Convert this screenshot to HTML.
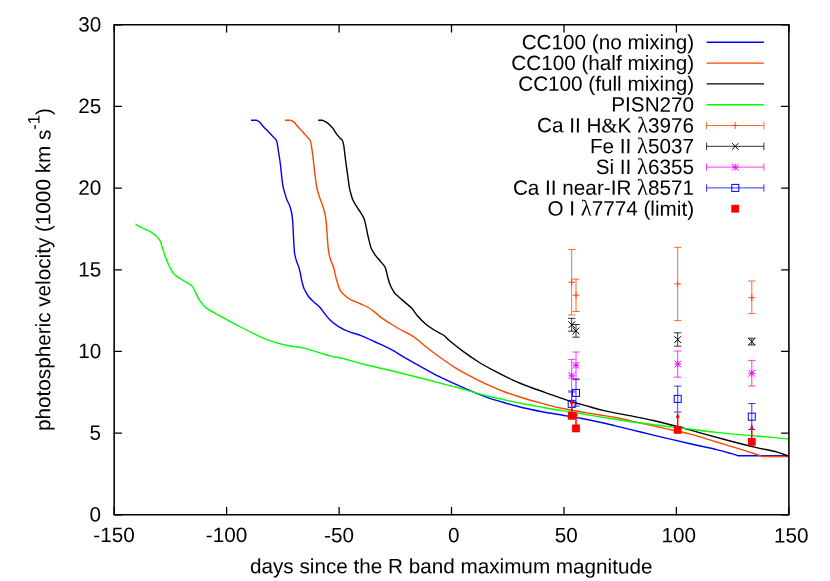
<!DOCTYPE html>
<html><head><meta charset="utf-8"><title>photospheric velocity</title>
<style>
html,body{margin:0;padding:0;background:#fff;}
svg{display:block;will-change:transform;}
text{font-family:"Liberation Sans",sans-serif;font-size:20.7px;fill:#000;text-rendering:geometricPrecision;}
</style></head><body>
<svg width="830" height="581" viewBox="0 0 830 581">
<rect width="830" height="581" fill="#fff"/>
<g>
<path d="M251.00,120.30 L256.70,120.30 C257.18,120.57 258.68,121.07 259.60,121.90 C260.52,122.73 261.00,123.93 262.20,125.30 C263.40,126.67 265.25,128.48 266.80,130.10 C268.35,131.72 269.95,133.38 271.50,135.00 C273.05,136.62 275.13,138.30 276.10,139.80 C277.07,141.30 276.93,142.22 277.30,144.00 C277.67,145.78 277.83,147.50 278.30,150.50 C278.77,153.50 279.58,158.15 280.10,162.00 C280.62,165.85 280.95,169.73 281.40,173.60 C281.85,177.47 282.25,181.98 282.80,185.20 C283.35,188.42 284.00,190.43 284.70,192.90 C285.40,195.37 286.23,198.02 287.00,200.00 C287.77,201.98 288.53,202.72 289.30,204.80 C290.07,206.88 291.03,209.77 291.60,212.50 C292.17,215.23 292.42,217.82 292.70,221.20 C292.98,224.58 293.10,228.95 293.30,232.80 C293.50,236.65 293.67,240.77 293.90,244.30 C294.13,247.83 294.28,251.27 294.70,254.00 C295.12,256.73 295.70,258.45 296.40,260.70 C297.10,262.95 298.22,265.25 298.90,267.50 C299.58,269.75 300.02,271.95 300.50,274.20 C300.98,276.45 301.27,278.75 301.80,281.00 C302.33,283.25 303.20,286.20 303.70,287.70 C304.20,289.20 303.97,288.50 304.80,290.00 C305.63,291.50 307.08,294.62 308.70,296.70 C310.32,298.78 312.58,300.67 314.50,302.50 C316.42,304.33 318.43,305.77 320.20,307.70 C321.97,309.63 323.33,311.92 325.10,314.10 C326.87,316.28 328.55,318.72 330.80,320.80 C333.05,322.88 335.70,324.83 338.60,326.60 C341.50,328.37 344.35,329.85 348.20,331.40 C352.05,332.95 357.20,334.13 361.70,335.90 C366.20,337.67 370.38,339.78 375.20,342.00 C380.02,344.22 385.47,346.47 390.60,349.20 C395.73,351.93 400.53,355.25 406.00,358.40 C411.47,361.55 417.93,365.10 423.40,368.10 C428.87,371.10 433.47,373.72 438.80,376.40 C444.13,379.08 450.07,381.78 455.40,384.20 C460.73,386.62 465.65,388.75 470.80,390.90 C475.95,393.05 480.83,395.17 486.30,397.10 C491.77,399.03 497.50,400.73 503.60,402.50 C509.70,404.27 516.47,406.17 522.90,407.70 C529.33,409.23 535.78,410.48 542.20,411.70 C548.62,412.92 554.98,413.90 561.40,415.00 C567.82,416.10 574.27,417.08 580.70,418.30 C587.13,419.52 594.23,421.03 600.00,422.30 C605.77,423.57 608.53,424.28 615.30,425.90 C622.07,427.52 632.17,429.97 640.60,432.00 C649.03,434.03 657.47,436.10 665.90,438.10 C674.33,440.10 682.77,442.08 691.20,444.00 C699.63,445.92 709.75,447.98 716.50,449.60 C723.25,451.22 728.12,452.68 731.70,453.70 C735.28,454.72 736.95,455.37 738.00,455.70 L789.00,455.70" fill="none" stroke="#0000ff" stroke-width="1.4" stroke-linejoin="round" stroke-linecap="butt"/>
<path d="M284.90,120.30 L290.70,120.30 C291.22,120.57 292.80,121.07 293.80,121.90 C294.80,122.73 295.48,123.93 296.70,125.30 C297.92,126.67 299.63,128.48 301.10,130.10 C302.57,131.72 304.03,133.38 305.50,135.00 C306.97,136.62 308.93,138.12 309.90,139.80 C310.87,141.48 310.80,142.35 311.30,145.10 C311.80,147.85 312.42,152.52 312.90,156.30 C313.38,160.08 313.75,163.95 314.20,167.80 C314.65,171.65 315.12,175.87 315.60,179.40 C316.08,182.93 316.47,186.12 317.10,189.00 C317.73,191.88 318.83,194.87 319.40,196.70 C319.97,198.53 319.90,198.33 320.50,200.00 C321.10,201.67 322.20,204.13 323.00,206.70 C323.80,209.27 324.72,212.33 325.30,215.40 C325.88,218.47 326.17,221.57 326.50,225.10 C326.83,228.63 327.05,233.07 327.30,236.60 C327.55,240.13 327.68,243.25 328.00,246.30 C328.32,249.35 328.65,252.33 329.20,254.90 C329.75,257.47 330.57,259.60 331.30,261.70 C332.03,263.80 332.95,265.42 333.60,267.50 C334.25,269.58 334.62,271.80 335.20,274.20 C335.78,276.60 336.33,279.33 337.10,281.90 C337.87,284.47 338.75,287.55 339.80,289.60 C340.85,291.65 341.68,292.58 343.40,294.20 C345.12,295.82 347.37,297.75 350.10,299.30 C352.83,300.85 356.90,302.22 359.80,303.50 C362.70,304.78 365.10,305.65 367.50,307.00 C369.90,308.35 371.95,309.87 374.20,311.60 C376.45,313.33 378.27,315.38 381.00,317.40 C383.73,319.42 387.40,321.68 390.60,323.70 C393.80,325.72 396.98,327.73 400.20,329.50 C403.42,331.27 407.00,332.60 409.90,334.30 C412.80,336.00 414.72,337.45 417.60,339.70 C420.48,341.95 423.67,345.00 427.20,347.80 C430.73,350.60 434.10,353.17 438.80,356.50 C443.50,359.83 450.07,364.48 455.40,367.80 C460.73,371.12 465.65,373.67 470.80,376.40 C475.95,379.13 480.83,381.68 486.30,384.20 C491.77,386.72 497.50,389.20 503.60,391.50 C509.70,393.80 516.47,396.02 522.90,398.00 C529.33,399.98 535.78,401.68 542.20,403.40 C548.62,405.12 554.98,406.92 561.40,408.30 C567.82,409.68 574.27,410.58 580.70,411.70 C587.13,412.82 594.23,414.03 600.00,415.00 C605.77,415.97 608.53,416.17 615.30,417.50 C622.07,418.83 632.17,421.15 640.60,423.00 C649.03,424.85 657.47,426.70 665.90,428.60 C674.33,430.50 682.77,432.17 691.20,434.40 C699.63,436.63 708.07,439.47 716.50,442.00 C724.93,444.53 735.05,447.50 741.80,449.60 C748.55,451.70 753.62,453.45 757.00,454.60 C760.38,455.75 761.25,456.18 762.10,456.50 L789.00,456.50" fill="none" stroke="#ff4500" stroke-width="1.4" stroke-linejoin="round" stroke-linecap="butt"/>
<path d="M318.30,120.30 L322.50,120.30 C323.05,120.57 324.58,121.13 325.80,121.90 C327.02,122.67 328.58,123.78 329.80,124.90 C331.02,126.02 331.98,127.10 333.10,128.60 C334.22,130.10 335.38,132.37 336.50,133.90 C337.62,135.43 338.82,136.70 339.80,137.80 C340.78,138.90 341.75,139.28 342.40,140.50 C343.05,141.72 343.25,142.47 343.70,145.10 C344.15,147.73 344.62,152.52 345.10,156.30 C345.58,160.08 346.12,164.27 346.60,167.80 C347.08,171.33 347.55,174.28 348.00,177.50 C348.45,180.72 348.77,184.22 349.30,187.10 C349.83,189.98 350.60,192.65 351.20,194.80 C351.80,196.95 351.98,198.02 352.90,200.00 C353.82,201.98 355.42,204.62 356.70,206.70 C357.98,208.78 359.40,210.57 360.60,212.50 C361.80,214.43 363.03,216.20 363.90,218.30 C364.77,220.40 365.23,222.68 365.80,225.10 C366.37,227.52 366.72,230.08 367.30,232.80 C367.88,235.52 368.65,238.83 369.30,241.40 C369.95,243.97 370.23,245.95 371.20,248.20 C372.17,250.45 373.65,252.82 375.10,254.90 C376.55,256.98 378.30,258.77 379.90,260.70 C381.50,262.63 383.58,264.57 384.70,266.50 C385.82,268.43 386.02,270.22 386.60,272.30 C387.18,274.38 387.55,276.75 388.20,279.00 C388.85,281.25 389.48,283.55 390.50,285.80 C391.52,288.05 393.32,291.00 394.30,292.50 C395.28,294.00 394.77,293.28 396.40,294.80 C398.03,296.32 401.53,299.35 404.10,301.60 C406.67,303.85 409.55,305.90 411.80,308.30 C414.05,310.70 415.35,313.43 417.60,316.00 C419.85,318.57 422.42,321.28 425.30,323.70 C428.18,326.12 431.85,328.57 434.90,330.50 C437.95,332.43 441.15,333.58 443.60,335.30 C446.05,337.02 446.35,338.12 449.60,340.80 C452.85,343.48 458.27,347.87 463.10,351.40 C467.93,354.93 473.45,358.78 478.60,362.00 C483.75,365.22 488.22,367.65 494.00,370.70 C499.78,373.75 506.88,377.42 513.30,380.30 C519.72,383.18 526.08,385.58 532.50,388.00 C538.92,390.42 545.37,392.55 551.80,394.80 C558.23,397.05 565.32,399.65 571.10,401.50 C576.88,403.35 581.23,404.42 586.50,405.90 C591.77,407.38 595.78,408.82 602.70,410.40 C609.62,411.98 619.57,413.72 628.00,415.40 C636.43,417.08 644.87,418.60 653.30,420.50 C661.73,422.40 670.17,424.57 678.60,426.80 C687.03,429.03 695.47,431.58 703.90,433.90 C712.33,436.22 720.77,438.50 729.20,440.70 C737.63,442.90 746.50,445.20 754.50,447.10 C762.50,449.00 771.45,450.57 777.20,452.10 C782.95,453.63 787.03,455.60 789.00,456.30" fill="none" stroke="#000" stroke-width="1.4" stroke-linejoin="round" stroke-linecap="butt"/>
<path d="M135.40,223.70 C136.07,224.18 137.12,225.40 139.40,226.60 C141.68,227.80 146.48,229.50 149.10,230.90 C151.72,232.30 153.30,233.43 155.10,235.00 C156.90,236.57 158.70,238.22 159.90,240.30 C161.10,242.38 161.30,244.50 162.30,247.50 C163.30,250.50 164.48,254.68 165.90,258.30 C167.32,261.92 169.38,266.50 170.80,269.20 C172.22,271.90 172.60,272.78 174.40,274.50 C176.20,276.22 178.80,277.70 181.60,279.50 C184.40,281.30 189.00,283.40 191.20,285.30 C193.40,287.20 193.38,288.37 194.80,290.90 C196.22,293.43 197.68,297.58 199.70,300.50 C201.72,303.42 203.30,305.72 206.90,308.40 C210.50,311.08 215.68,313.50 221.30,316.60 C226.92,319.70 234.17,323.67 240.60,327.00 C247.03,330.33 254.28,334.08 259.90,336.60 C265.52,339.12 269.48,340.57 274.30,342.10 C279.12,343.63 283.98,344.83 288.80,345.80 C293.62,346.77 298.12,346.75 303.20,347.90 C308.28,349.05 314.70,351.33 319.30,352.70 C323.90,354.07 326.63,355.08 330.80,356.10 C334.97,357.12 338.83,357.45 344.30,358.80 C349.77,360.15 355.57,362.17 363.60,364.20 C371.63,366.23 383.18,368.75 392.50,371.00 C401.82,373.25 411.13,375.55 419.50,377.70 C427.87,379.85 436.72,382.35 442.70,383.90 C448.68,385.45 450.72,385.77 455.40,387.00 C460.08,388.23 465.65,389.85 470.80,391.30 C475.95,392.75 480.83,394.32 486.30,395.70 C491.77,397.08 497.50,398.25 503.60,399.60 C509.70,400.95 516.47,402.52 522.90,403.80 C529.33,405.08 535.78,406.17 542.20,407.30 C548.62,408.43 554.98,409.57 561.40,410.60 C567.82,411.63 574.27,412.45 580.70,413.50 C587.13,414.55 594.23,415.95 600.00,416.90 C605.77,417.85 608.53,418.18 615.30,419.20 C622.07,420.22 632.17,421.82 640.60,423.00 C649.03,424.18 657.47,425.25 665.90,426.30 C674.33,427.35 682.77,428.28 691.20,429.30 C699.63,430.32 708.07,431.47 716.50,432.40 C724.93,433.33 733.37,434.15 741.80,434.90 C750.23,435.65 759.23,436.22 767.10,436.90 C774.97,437.58 785.35,438.65 789.00,439.00" fill="none" stroke="#00ff00" stroke-width="1.4" stroke-linejoin="round" stroke-linecap="butt"/>
<path d="M571.7,249.5V315.0M568.0,249.5H575.4M568.0,315.0H575.4" stroke="#ff4500" stroke-width="0.8" fill="none"/><path d="M568.4,282.2H575.1M571.7,278.8V285.6" stroke="#ff4500" stroke-width="1.0" fill="none"/>
<path d="M576.0,279.1V311.5M572.3,279.1H579.7M572.3,311.5H579.7" stroke="#ff4500" stroke-width="0.8" fill="none"/><path d="M572.6,295.2H579.4M576.0,291.8V298.6" stroke="#ff4500" stroke-width="1.0" fill="none"/>
<path d="M677.7,247.3V320.6M674.0,247.3H681.4M674.0,320.6H681.4" stroke="#ff4500" stroke-width="0.8" fill="none"/><path d="M674.4,283.9H681.1M677.7,280.5V287.2" stroke="#ff4500" stroke-width="1.0" fill="none"/>
<path d="M751.8,281.0V313.6M748.1,281.0H755.5M748.1,313.6H755.5" stroke="#ff4500" stroke-width="0.8" fill="none"/><path d="M748.4,297.7H755.1M751.8,294.3V301.1" stroke="#ff4500" stroke-width="1.0" fill="none"/>
<path d="M571.7,318.3V331.2M568.0,318.3H575.4M568.0,331.2H575.4" stroke="#000" stroke-width="0.8" fill="none"/><path d="M568.4,321.4L575.1,328.2M568.4,328.2L575.1,321.4" stroke="#000" stroke-width="1.0" fill="none"/>
<path d="M576.0,324.5V337.2M572.3,324.5H579.7M572.3,337.2H579.7" stroke="#000" stroke-width="0.8" fill="none"/><path d="M572.6,327.5L579.4,334.2M572.6,334.2L579.4,327.5" stroke="#000" stroke-width="1.0" fill="none"/>
<path d="M677.7,332.8V346.2M674.0,332.8H681.4M674.0,346.2H681.4" stroke="#000" stroke-width="0.8" fill="none"/><path d="M674.4,336.2L681.1,343.0M674.4,343.0L681.1,336.2" stroke="#000" stroke-width="1.0" fill="none"/>
<path d="M751.8,338.2V345.0M748.1,338.2H755.5M748.1,345.0H755.5" stroke="#000" stroke-width="0.8" fill="none"/><path d="M748.4,338.2L755.1,345.0M748.4,345.0L755.1,338.2" stroke="#000" stroke-width="1.0" fill="none"/>
<path d="M571.7,359.4V392.3M568.0,359.4H575.4M568.0,392.3H575.4" stroke="#ff00ff" stroke-width="0.8" fill="none"/><path d="M568.4,375.8H575.1M571.7,372.4V379.2" stroke="#ff00ff" stroke-width="1.0" fill="none"/><path d="M568.4,372.4L575.1,379.2M568.4,379.2L575.1,372.4" stroke="#ff00ff" stroke-width="1.0" fill="none"/>
<path d="M576.0,352.0V378.7M572.3,352.0H579.7M572.3,378.7H579.7" stroke="#ff00ff" stroke-width="0.8" fill="none"/><path d="M572.6,365.3H579.4M576.0,361.9V368.7" stroke="#ff00ff" stroke-width="1.0" fill="none"/><path d="M572.6,361.9L579.4,368.7M572.6,368.7L579.4,361.9" stroke="#ff00ff" stroke-width="1.0" fill="none"/>
<path d="M677.7,351.0V377.2M674.0,351.0H681.4M674.0,377.2H681.4" stroke="#ff00ff" stroke-width="0.8" fill="none"/><path d="M674.4,364.0H681.1M677.7,360.6V367.4" stroke="#ff00ff" stroke-width="1.0" fill="none"/><path d="M674.4,360.6L681.1,367.4M674.4,367.4L681.1,360.6" stroke="#ff00ff" stroke-width="1.0" fill="none"/>
<path d="M751.8,360.4V386.0M748.1,360.4H755.5M748.1,386.0H755.5" stroke="#ff00ff" stroke-width="0.8" fill="none"/><path d="M748.4,373.3H755.1M751.8,369.9V376.7" stroke="#ff00ff" stroke-width="1.0" fill="none"/><path d="M748.4,369.9L755.1,376.7M748.4,376.7L755.1,369.9" stroke="#ff00ff" stroke-width="1.0" fill="none"/>
<path d="M571.7,391.0V415.7M568.0,391.0H575.4M568.0,415.7H575.4" stroke="#0000ff" stroke-width="0.8" fill="none"/><rect x="568.2" y="400.4" width="7.0" height="7.0" stroke="#0000ff" stroke-width="1.0" fill="none"/>
<path d="M576.0,379.6V406.2M572.3,379.6H579.7M572.3,406.2H579.7" stroke="#0000ff" stroke-width="0.8" fill="none"/><rect x="572.5" y="389.4" width="7.0" height="7.0" stroke="#0000ff" stroke-width="1.0" fill="none"/>
<path d="M677.7,386.1V412.1M674.0,386.1H681.4M674.0,412.1H681.4" stroke="#0000ff" stroke-width="0.8" fill="none"/><rect x="674.2" y="395.4" width="7.0" height="7.0" stroke="#0000ff" stroke-width="1.0" fill="none"/>
<path d="M751.8,403.6V429.5M748.1,403.6H755.5M748.1,429.5H755.5" stroke="#0000ff" stroke-width="0.8" fill="none"/><rect x="748.3" y="413.2" width="7.0" height="7.0" stroke="#0000ff" stroke-width="1.0" fill="none"/>
<rect x="567.8" y="411.9" width="7.8" height="7.8" fill="#ff0000"/><path d="M571.7,415.8V402.0" stroke="#ff0000" stroke-width="1.5" fill="none"/><path d="M571.7,398.0L573.7,404.3L571.7,403.2L569.7,404.3Z" fill="#ff0000"/>
<rect x="572.1" y="424.5" width="7.8" height="7.8" fill="#ff0000"/><path d="M576.0,428.4V414.5" stroke="#ff0000" stroke-width="1.5" fill="none"/><path d="M576.0,410.5L578.0,416.8L576.0,415.7L574.0,416.8Z" fill="#ff0000"/>
<rect x="673.8" y="426.0" width="7.8" height="7.8" fill="#ff0000"/><path d="M677.7,429.9V416.0" stroke="#ff0000" stroke-width="1.5" fill="none"/><path d="M677.7,412.0L679.7,418.3L677.7,417.2L675.7,418.3Z" fill="#ff0000"/>
<rect x="747.9" y="438.0" width="7.8" height="7.8" fill="#ff0000"/><path d="M751.8,441.9V427.6" stroke="#ff0000" stroke-width="1.5" fill="none"/><path d="M751.8,423.6L753.8,429.9L751.8,428.8L749.8,429.9Z" fill="#ff0000"/>
</g>
<g>
<rect x="114.15" y="24.76" width="674.75" height="489.99" fill="none" stroke="#000" stroke-width="1.55" stroke-linejoin="round"/>
<path d="M114.2,514.75V507.45M114.2,24.76V32.06M226.6,514.75V507.45M226.6,24.76V32.06M339.1,514.75V507.45M339.1,24.76V32.06M451.5,514.75V507.45M451.5,24.76V32.06M564.0,514.75V507.45M564.0,24.76V32.06M676.4,514.75V507.45M676.4,24.76V32.06M788.9,514.75V507.45M788.9,24.76V32.06M114.15,514.8H121.45M788.9,514.8H781.6M114.15,433.1H121.45M788.9,433.1H781.6M114.15,351.4H121.45M788.9,351.4H781.6M114.15,269.8H121.45M788.9,269.8H781.6M114.15,188.1H121.45M788.9,188.1H781.6M114.15,106.4H121.45M788.9,106.4H781.6M114.15,24.8H121.45M788.9,24.8H781.6" stroke="#000" stroke-width="1.3" stroke-linecap="round" fill="none"/>
</g>
<g>
<path d="M706.6,42.3H763.9" stroke="#0000ff" stroke-width="1.4"/>
<path d="M706.6,63.1H763.9" stroke="#ff4500" stroke-width="1.4"/>
<path d="M706.6,83.9H763.9" stroke="#000" stroke-width="1.4"/>
<path d="M706.6,104.7H763.9" stroke="#00ff00" stroke-width="1.4"/>
<path d="M706.6,125.5H763.9M706.6,121.8V129.2M763.9,121.8V129.2" stroke="#ff4500" stroke-width="0.8" fill="none"/><path d="M731.9,125.5H738.6M735.2,122.2V128.8" stroke="#ff4500" stroke-width="1.0" fill="none"/>
<path d="M706.6,146.3H763.9M706.6,142.6V150.0M763.9,142.6V150.0" stroke="#000" stroke-width="0.8" fill="none"/><path d="M731.9,143.0L738.6,149.7M731.9,149.7L738.6,143.0" stroke="#000" stroke-width="1.0" fill="none"/>
<path d="M706.6,167.1H763.9M706.6,163.4V170.8M763.9,163.4V170.8" stroke="#ff00ff" stroke-width="0.8" fill="none"/><path d="M731.9,167.1H738.6M735.2,163.8V170.5" stroke="#ff00ff" stroke-width="1.0" fill="none"/><path d="M731.9,163.8L738.6,170.5M731.9,170.5L738.6,163.8" stroke="#ff00ff" stroke-width="1.0" fill="none"/>
<path d="M706.6,187.9H763.9M706.6,184.2V191.6M763.9,184.2V191.6" stroke="#0000ff" stroke-width="0.8" fill="none"/><rect x="731.8" y="184.4" width="7.0" height="7.0" stroke="#0000ff" stroke-width="1.0" fill="none"/>
<rect x="731.3" y="204.8" width="7.8" height="7.8" fill="#ff0000"/>
</g>
<g transform="rotate(0.03 415 290)">
<text x="114.2" y="542.2" text-anchor="middle">-150</text>
<text x="226.6" y="542.2" text-anchor="middle">-100</text>
<text x="339.1" y="542.2" text-anchor="middle">-50</text>
<text x="454.0" y="542.2" text-anchor="middle">0</text>
<text x="566.5" y="542.2" text-anchor="middle">50</text>
<text x="678.9" y="542.2" text-anchor="middle">100</text>
<text x="791.4" y="542.2" text-anchor="middle">150</text>
<text x="101.2" y="521.6" text-anchor="end">0</text>
<text x="101.2" y="440.0" text-anchor="end">5</text>
<text x="101.2" y="358.3" text-anchor="end">10</text>
<text x="101.2" y="276.7" text-anchor="end">15</text>
<text x="101.2" y="195.0" text-anchor="end">20</text>
<text x="101.2" y="113.3" text-anchor="end">25</text>
<text x="101.2" y="31.7" text-anchor="end">30</text>
<text x="451.4" y="573.3" text-anchor="middle" font-size="20.75">days since the R band maximum magnitude</text>
<text transform="translate(50.3,269.7) rotate(-90)" text-anchor="middle" font-size="20.8">photospheric velocity (1000 km s<tspan font-size="16.6" dy="-10.8">-1</tspan><tspan dy="10.8">)</tspan></text>
<text x="694" y="49.1" text-anchor="end">CC100 (no mixing)</text>
<text x="694" y="69.9" text-anchor="end">CC100 (half mixing)</text>
<text x="694" y="90.7" text-anchor="end">CC100 (full mixing)</text>
<text x="694" y="111.5" text-anchor="end">PISN270</text>
<text x="694" y="132.3" text-anchor="end">Ca II H<tspan font-family="Liberation Serif">&amp;</tspan>K <tspan font-family="Liberation Serif" font-size="22.5">λ</tspan>3976</text>
<text x="694" y="153.1" text-anchor="end">Fe II <tspan font-family="Liberation Serif" font-size="22.5">λ</tspan>5037</text>
<text x="694" y="173.9" text-anchor="end">Si II <tspan font-family="Liberation Serif" font-size="22.5">λ</tspan>6355</text>
<text x="694" y="194.7" text-anchor="end">Ca II near-IR <tspan font-family="Liberation Serif" font-size="22.5">λ</tspan>8571</text>
<text x="694" y="215.5" text-anchor="end">O I <tspan font-family="Liberation Serif" font-size="22.5">λ</tspan>7774 (limit)</text>
</g>
</svg>
</body></html>
